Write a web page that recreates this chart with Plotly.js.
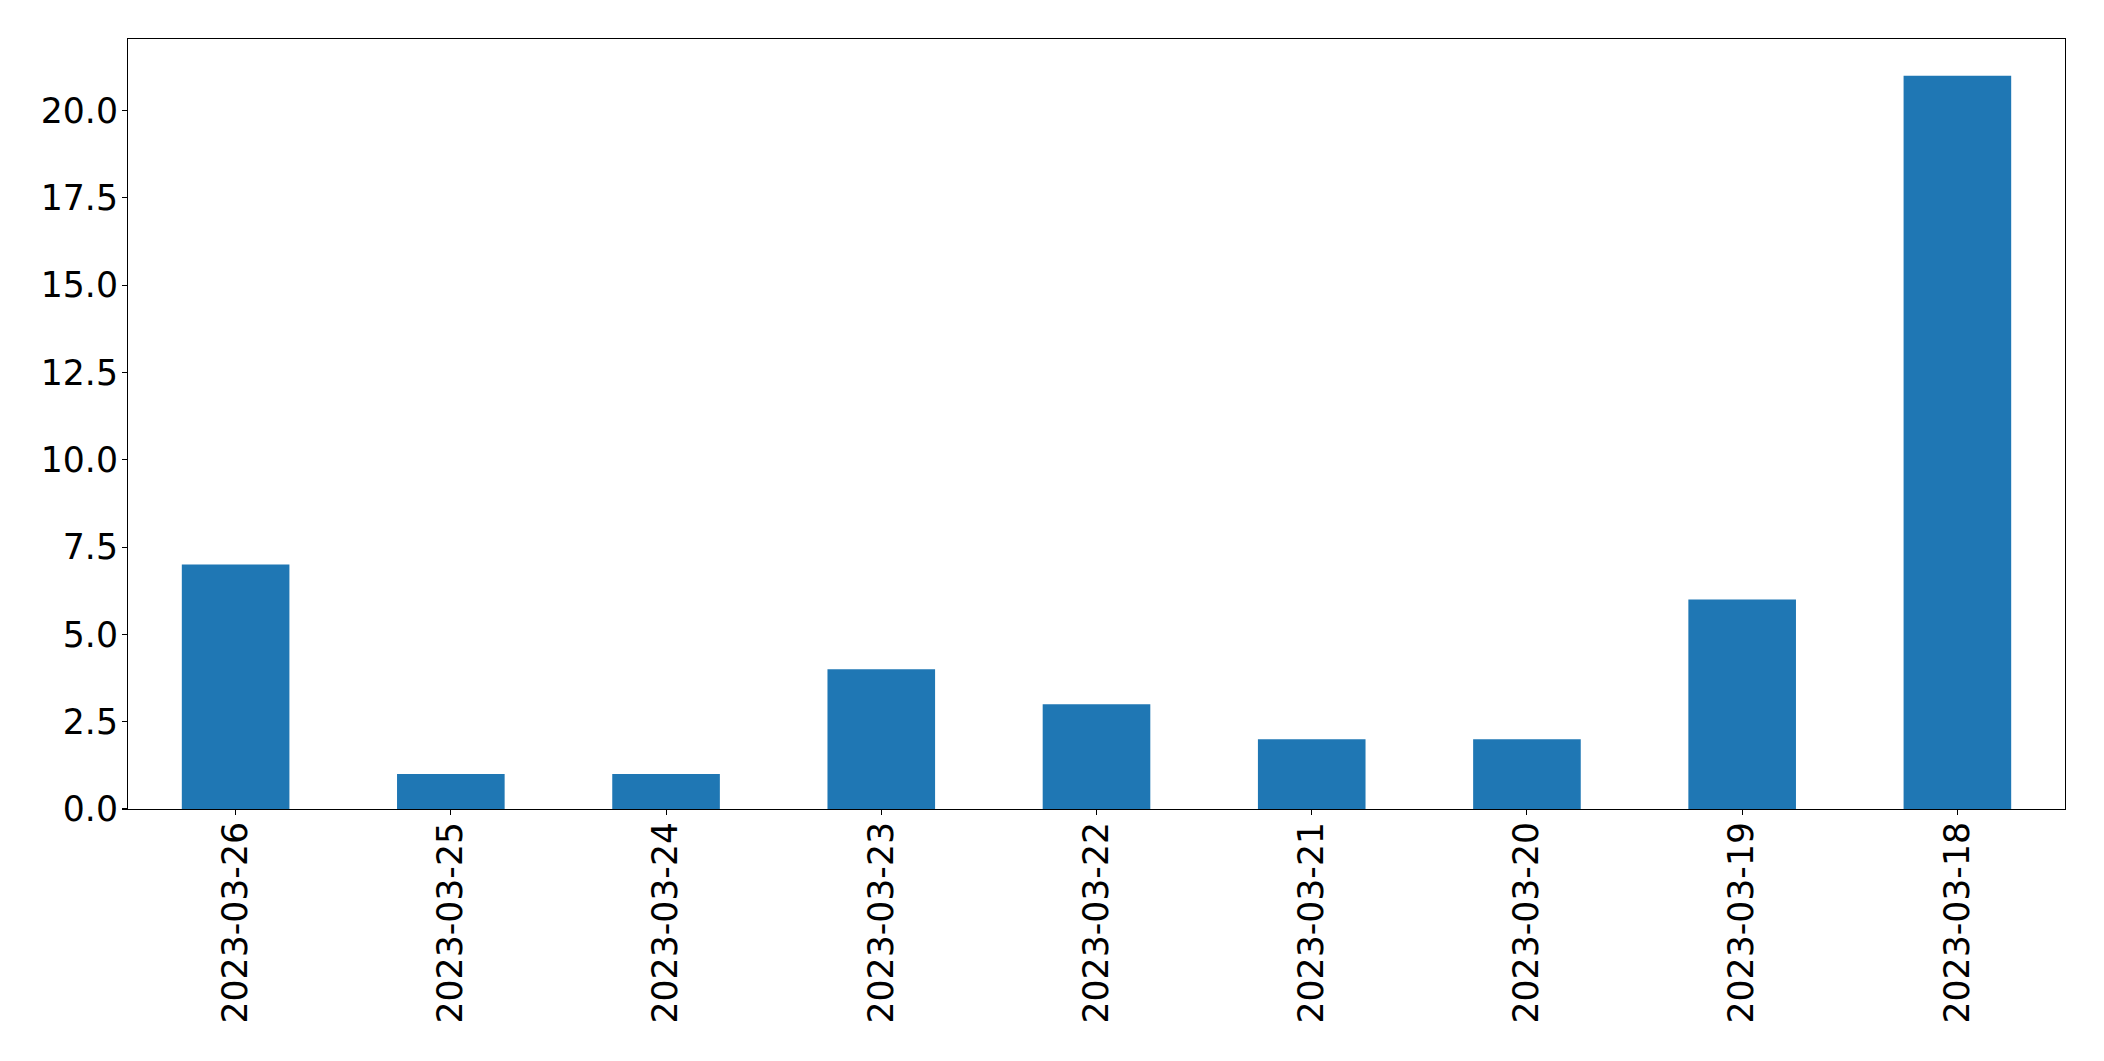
<!DOCTYPE html>
<html><head><meta charset="utf-8">
<script src="https://cdn.plot.ly/plotly-3.0.1.min.js"></script>
<style>html,body{margin:0;padding:0;background:#fff}#chart{width:2104px;height:1061px}</style>
</head><body><div id="chart"></div>
<script>
const categories = ["2023-03-26","2023-03-25","2023-03-24","2023-03-23","2023-03-22","2023-03-21","2023-03-20","2023-03-19","2023-03-18"];
const values = [7,1,1,4,3,2,2,6,21];
const yTicks = [0,2.5,5,7.5,10,12.5,15,17.5,20];

const trace = {type:'bar', x:categories, y:values, marker:{color:'#1f77b4', line:{width:0}}, hoverinfo:'x+y'};
const font = {family:'DejaVu Sans, sans-serif', size:34.7, color:'#000'};
const layout = {
  width:2104, height:1061,
  margin:{l:128, r:39, t:39, b:252, pad:0},
  paper_bgcolor:'#fff', plot_bgcolor:'#fff',
  bargap:0.5,
  showlegend:false,
  font:font,
  xaxis:{type:'category', range:[-0.5,8.5], tickangle:-90, ticks:'outside', ticklen:5, tickwidth:1.1, tickcolor:'#000',
         showline:true, linecolor:'#000', linewidth:1.1, mirror:true, showgrid:false, zeroline:false,
         tickfont:font, ticklabelstandoff:-7},
  yaxis:{range:[0,22.05], tickvals:yTicks, ticktext:yTicks.map(v=>v.toFixed(1)), ticks:'outside', ticklen:5, tickwidth:1.1, tickcolor:'#000',
         showline:true, linecolor:'#000', linewidth:1.1, mirror:true, showgrid:false, zeroline:false,
         tickfont:font, ticklabelstandoff:-3}
};
Plotly.newPlot('chart',[trace],layout,{displayModeBar:false, staticPlot:true});
</script></body></html>
